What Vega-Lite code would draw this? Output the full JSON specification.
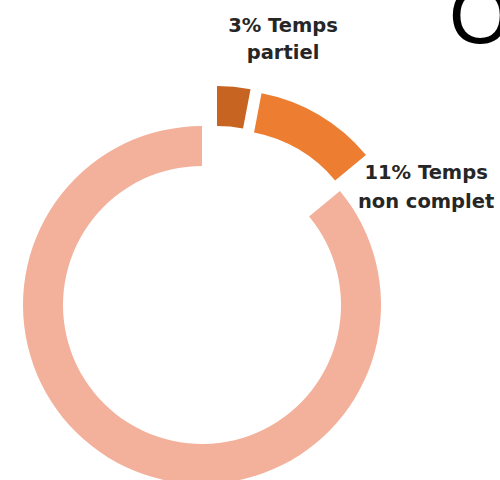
{
  "$schema": "https://vega.github.io/schema/vega-lite/v6.json",
  "width": 404,
  "height": 350,
  "autosize": "none",
  "padding": {"left": 0, "top": 130, "right": 96, "bottom": 0},
  "background": "white",
  "config": {"view": {"stroke": null}},
  "title": {"text": "O", "anchor": "end", "frame": "group", "align": "left", "baseline": "alphabetic", "dx": 45, "dy": 111, "fontSize": 80, "font": "Liberation Sans", "fontWeight": "normal", "color": "#000000"},
  "data": {
    "values": [
      {"categorie": "Temps partiel", "pct": 3, "ordre": 1, "label": "3% Temps\npartiel"},
      {"categorie": "Temps non complet", "pct": 11, "ordre": 2, "label": "11% Temps\nnon complet"},
      {"categorie": "Temps complet", "pct": 86, "ordre": 3, "label": ""}
    ]
  },
  "transform": [
    {"stack": "pct", "groupby": [], "sort": [{"field": "ordre", "order": "ascending"}], "as": ["th0", "th1"]}
  ],
  "layer": [
    {
      "transform": [{"filter": "datum.ordre == 3"}],
      "mark": {"type": "arc", "outerRadius": 179, "innerRadius": 139},
      "encoding": {
        "theta": {"field": "th0", "type": "quantitative", "scale": {"domain": [0, 100]}},
        "theta2": {"field": "th1"},
        "color": {"field": "categorie", "type": "nominal", "scale": {"domain": ["Temps partiel", "Temps non complet", "Temps complet"], "range": ["#C86422", "#ED7D31", "#F3B09A"]}, "legend": null}
      }
    },
    {
      "transform": [{"filter": "datum.ordre == 1"}],
      "mark": {"type": "arc", "outerRadius": 179, "innerRadius": 139, "xOffset": 15, "yOffset": -40},
      "encoding": {
        "theta": {"field": "th0", "type": "quantitative", "scale": {"domain": [0, 100]}},
        "theta2": {"field": "th1"},
        "color": {"field": "categorie", "type": "nominal", "legend": null}
      }
    },
    {
      "transform": [{"filter": "datum.ordre == 2"}],
      "mark": {"type": "arc", "outerRadius": 179, "innerRadius": 139, "xOffset": 26, "yOffset": -36},
      "encoding": {
        "theta": {"field": "th0", "type": "quantitative", "scale": {"domain": [0, 100]}},
        "theta2": {"field": "th1"},
        "color": {"field": "categorie", "type": "nominal", "legend": null}
      }
    },
    {
      "transform": [{"filter": "datum.ordre == 1"}],
      "mark": {"type": "text", "radius": 273, "dx": 81, "dy": 0, "align": "center", "baseline": "alphabetic", "font": "DejaVu Sans", "fontWeight": "bold", "fontSize": 19.5, "lineHeight": 27, "lineBreak": "\n", "color": "#262626"},
      "encoding": {
        "theta": {"field": "th0", "type": "quantitative", "scale": {"domain": [0, 100]}},
        "text": {"field": "label"}
      }
    },
    {
      "transform": [{"filter": "datum.ordre == 2"}],
      "mark": {"type": "text", "radius": 200, "dx": 70, "dy": 1, "align": "center", "baseline": "alphabetic", "font": "DejaVu Sans", "fontWeight": "bold", "fontSize": 19.5, "lineHeight": 29, "lineBreak": "\n", "color": "#262626"},
      "encoding": {
        "theta": {"field": "th1", "type": "quantitative", "scale": {"domain": [0, 100]}},
        "text": {"field": "label"}
      }
    }
  ]
}
